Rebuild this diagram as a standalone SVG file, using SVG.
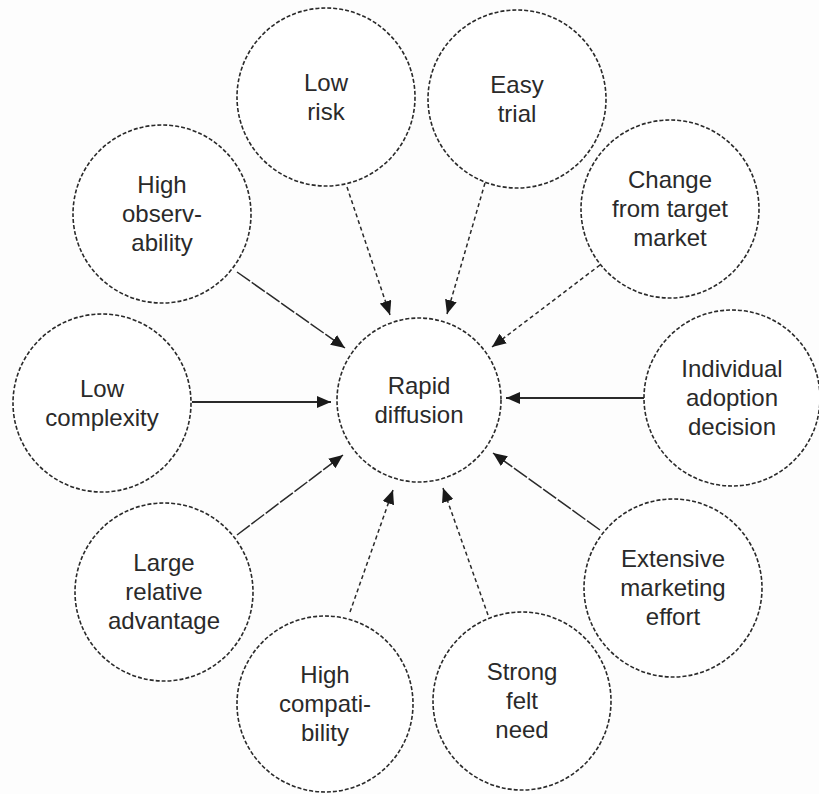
<svg xmlns="http://www.w3.org/2000/svg" width="819" height="794" viewBox="0 0 819 794">
<defs>
<marker id="ah" markerUnits="userSpaceOnUse" markerWidth="14" markerHeight="12" refX="14" refY="6" orient="auto">
<path d="M0,0 L14,6 L0,12 z" fill="#1a1a1a"/>
</marker>
<style>
.n{fill:#fff;stroke:#2a2a2a;stroke-width:1.6;stroke-dasharray:4 2}
.t{font-family:"Liberation Sans",Arial,sans-serif;font-size:24px;fill:#2a2a2a;text-anchor:middle}
.c{stroke:#2a2a2a;stroke-width:1.5;fill:none;marker-end:url(#ah)}
.solid{stroke-width:2}
.dash{stroke-dasharray:4 3}
.semi{stroke-dasharray:16 2}
</style>
</defs>
<rect width="819" height="794" fill="#fdfdfd"/>
<g id="connectors">
<line class="c dash" x1="347" y1="187" x2="390" y2="315"/>
<line class="c dash" x1="485" y1="183" x2="447" y2="314"/>
<line class="c semi" x1="237" y1="272" x2="345" y2="348"/>
<line class="c dash" x1="600" y1="265" x2="492" y2="347"/>
<line class="c solid" x1="192" y1="402" x2="331" y2="402"/>
<line class="c solid" x1="645" y1="398" x2="506" y2="398"/>
<line class="c semi" x1="237" y1="535" x2="343" y2="455"/>
<line class="c semi" x1="600" y1="530" x2="493" y2="453"/>
<line class="c dash" x1="350" y1="612" x2="393" y2="490"/>
<line class="c dash" x1="488" y1="615" x2="443" y2="488"/>
</g>
<g id="rapid-diffusion"><circle class="n" cx="419" cy="400" r="82"/><text class="t" x="419" y="394">Rapid</text><text class="t" x="419" y="423">diffusion</text></g>
<g id="low-risk"><circle class="n" cx="326" cy="97" r="89"/><text class="t" x="326" y="91">Low</text><text class="t" x="326" y="120">risk</text></g>
<g id="easy-trial"><circle class="n" cx="517" cy="99" r="89"/><text class="t" x="517" y="93">Easy</text><text class="t" x="517" y="122">trial</text></g>
<g id="high-observability"><circle class="n" cx="162" cy="214" r="89"/><text class="t" x="162" y="193">High</text><text class="t" x="162" y="222">observ-</text><text class="t" x="162" y="251">ability</text></g>
<g id="change-target-market"><circle class="n" cx="670" cy="209" r="89"/><text class="t" x="670" y="188">Change</text><text class="t" x="670" y="217">from target</text><text class="t" x="670" y="246">market</text></g>
<g id="low-complexity"><circle class="n" cx="102" cy="403" r="89"/><text class="t" x="102" y="397">Low</text><text class="t" x="102" y="426">complexity</text></g>
<g id="individual-adoption"><circle class="n" cx="732" cy="398" r="88"/><text class="t" x="732" y="377">Individual</text><text class="t" x="732" y="406">adoption</text><text class="t" x="732" y="435">decision</text></g>
<g id="large-relative-advantage"><circle class="n" cx="164" cy="592" r="89"/><text class="t" x="164" y="571">Large</text><text class="t" x="164" y="600">relative</text><text class="t" x="164" y="629">advantage</text></g>
<g id="extensive-marketing"><circle class="n" cx="673" cy="588" r="89"/><text class="t" x="673" y="567">Extensive</text><text class="t" x="673" y="596">marketing</text><text class="t" x="673" y="625">effort</text></g>
<g id="high-compatibility"><circle class="n" cx="325" cy="704" r="88"/><text class="t" x="325" y="683">High</text><text class="t" x="325" y="712">compati-</text><text class="t" x="325" y="741">bility</text></g>
<g id="strong-felt-need"><circle class="n" cx="522" cy="701" r="89"/><text class="t" x="522" y="680">Strong</text><text class="t" x="522" y="709">felt</text><text class="t" x="522" y="738">need</text></g>
</svg>
